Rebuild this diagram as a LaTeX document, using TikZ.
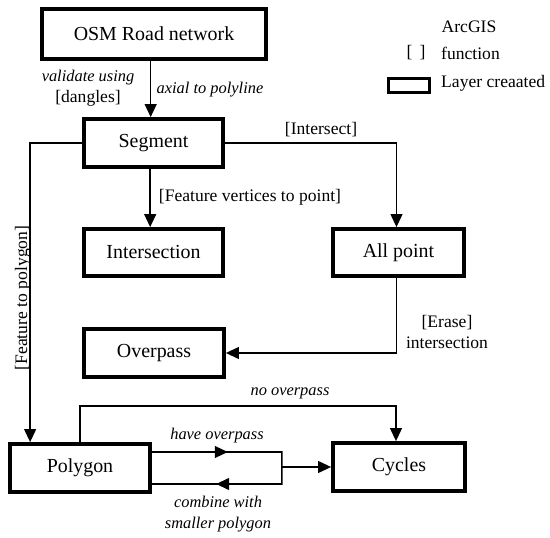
\documentclass[tikz,border=0pt]{standalone}
\usepackage{fontspec}
\setmainfont{Liberation Serif}
\usetikzlibrary{arrows.meta,decorations.markings}

\begin{document}
\begin{tikzpicture}[x=0.03cm,y=-0.03cm,
    layer/.style={draw,line width=3.2pt,inner sep=0pt,
      font=\fontsize{17}{20}\selectfont},
    link/.style={line width=1.4pt,-{Triangle[length=11pt,width=10pt]}},
    lab/.style={inner sep=0pt,align=center,font=\fontsize{15}{18}\selectfont},
    ilab/.style={lab,font=\fontsize{14}{18}\selectfont\itshape},
    loopflow/.style={line width=1.4pt,postaction={decorate},
      decoration={markings,
        mark=at position 0.26 with {\arrow{Triangle[length=11pt,width=10pt]}},
        mark=at position 0.78 with {\arrow{Triangle[length=11pt,width=10pt]}}}}]
  \useasboundingbox (0,0) rectangle (550,538);

  % layers
  \node[layer,minimum width=6.72cm,minimum height=1.5cm]  (osm)     at (154,34)    {OSM Road network};
  \node[layer,minimum width=4.17cm,minimum height=1.44cm] (segment) at (153.5,143)  {Segment};
  \node[layer,minimum width=4.17cm,minimum height=1.41cm] (inter)   at (153.5,252.5){Intersection};
  \node[layer,minimum width=3.93cm,minimum height=1.41cm] (allp)    at (398.5,252.5){All point};
  \node[layer,minimum width=4.2cm,minimum height=1.44cm]  (over)    at (154,353)    {Overpass};
  \node[layer,minimum width=4.2cm,minimum height=1.44cm]  (poly)    at (80,468)     {Polygon};
  \node[layer,minimum width=3.96cm,minimum height=1.44cm] (cycles)  at (399,467)    {Cycles};

  % legend
  \node[lab] (arcgis) at (469,27) {ArcGIS};
  \node[lab] (brk) at (416,53) {[\hspace{6pt}]};
  \node[lab,anchor=west] (fn) at (441,53) {function};
  \node[draw,line width=2.6pt,minimum width=1.23cm,minimum height=0.42cm,inner sep=0pt] (lbox) at (409,85.5) {};
  \node[lab,anchor=west] (lyr) at (441,83) {Layer creaated};

  % connectors
  \draw[link] ([xshift=-0.1cm]osm.south) -- ([xshift=-0.1cm]osm.south |- segment.north);
  \draw[link] ([xshift=-0.1cm]segment.south) -- ([xshift=-0.1cm]segment.south |- inter.north);
  \draw[link] (segment.west) -| ([xshift=0.66cm]poly.north west);
  \draw[link] (segment.east) -| ([xshift=-0.06cm]allp.north);
  \draw[link] ([xshift=-0.06cm]allp.south) |- (over.east);
  \draw[link] (poly.north) -- ++(0,-36) -| ([xshift=-0.09cm]cycles.north);
  \draw[loopflow] ([yshift=0.48cm]poly.east) -- ++(130,0) coordinate (turn)
    -- ++(0,32) -- ([yshift=-0.48cm]poly.east);
  \draw[link] (turn |- cycles.west) -- (cycles.west);

  % labels
  \node[lab] (val)   at (88,88)   {{\fontsize{14}{18}\selectfont\itshape validate using}\\{}[dangles]};
  \node[ilab] (axial) at (210,90)  {axial to polyline};
  \node[lab] (isect) at (321,130) {[Intersect]};
  \node[lab] (fvp)   at (250,197) {[Feature vertices to point]};
  \node[lab,rotate=90] (ftp) at (23,298) {[Feature to polygon]};
  \node[lab] (erase) at (447,332) {[Erase]\\intersection};
  \node[ilab] (noov)  at (290,393) {no overpass};
  \node[ilab] (have)  at (217,436) {have overpass};
  \node[ilab] (comb)  at (218,514) {combine with\\smaller polygon};
\end{tikzpicture}
\end{document}
